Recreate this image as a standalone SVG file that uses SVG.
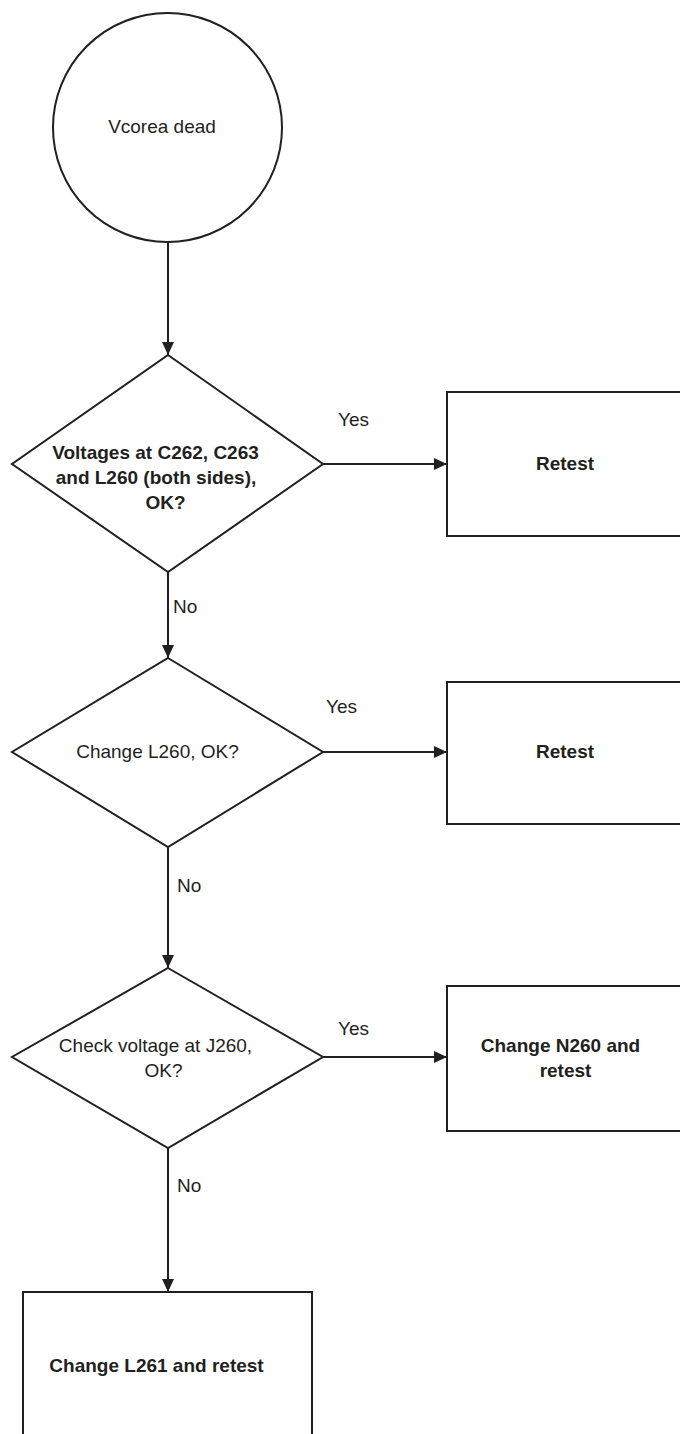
<svg xmlns="http://www.w3.org/2000/svg" width="680" height="1434" viewBox="0 0 680 1434">
  <style>
    .shape { fill: #ffffff; stroke: #231f20; stroke-width: 2; }
    .edge { fill: none; stroke: #231f20; stroke-width: 2; }
    text { font-family: "Liberation Sans", Arial, sans-serif; font-size: 19px; fill: #231f20; }
    .bold { font-weight: bold; }
    .mid { text-anchor: middle; }
  </style>
  <defs>
    <marker id="arrow" markerUnits="userSpaceOnUse" markerWidth="14" markerHeight="14" refX="13" refY="6.5" orient="auto">
      <path d="M0,0.5 L13,6.5 L0,12.5 Z" fill="#231f20"/>
    </marker>
  </defs>

  <rect width="680" height="1434" fill="#ffffff"/>

  <!-- connectors -->
  <g id="connectors">
    <line class="edge" x1="168" y1="242" x2="168" y2="355" marker-end="url(#arrow)"/>
    <line class="edge" x1="323" y1="464" x2="447" y2="464" marker-end="url(#arrow)"/>
    <line class="edge" x1="168" y1="572" x2="168" y2="658" marker-end="url(#arrow)"/>
    <line class="edge" x1="323" y1="752" x2="447" y2="752" marker-end="url(#arrow)"/>
    <line class="edge" x1="168" y1="847" x2="168" y2="968" marker-end="url(#arrow)"/>
    <line class="edge" x1="323" y1="1057" x2="447" y2="1057" marker-end="url(#arrow)"/>
    <line class="edge" x1="168" y1="1148" x2="168" y2="1292" marker-end="url(#arrow)"/>
    <text x="338" y="426">Yes</text>
    <text x="326" y="713">Yes</text>
    <text x="338" y="1035">Yes</text>
    <text x="173" y="613">No</text>
    <text x="177" y="892">No</text>
    <text x="177" y="1192">No</text>
  </g>

  <!-- start -->
  <g id="start">
    <circle class="shape" cx="167.5" cy="127.5" r="114.5"/>
    <text class="mid" x="162" y="133">Vcorea dead</text>
  </g>

  <!-- decision 1 -->
  <g id="check-voltages">
    <polygon class="shape" points="168,355 323,464 168,572 12,464"/>
    <text class="bold mid" x="155.5" y="459">Voltages at C262, C263</text>
    <text class="bold mid" x="156" y="484">and L260 (both sides),</text>
    <text class="bold mid" x="165.5" y="509">OK?</text>
  </g>

  <g id="retest-1">
    <rect class="shape" x="447" y="392" width="260" height="144"/>
    <text class="bold mid" x="565" y="470">Retest</text>
  </g>

  <!-- decision 2 -->
  <g id="change-l260">
    <polygon class="shape" points="168,658 323,752 168,847 12,752"/>
    <text class="mid" x="157.5" y="758">Change L260, OK?</text>
  </g>

  <g id="retest-2">
    <rect class="shape" x="447" y="682" width="260" height="142"/>
    <text class="bold mid" x="565" y="758">Retest</text>
  </g>

  <!-- decision 3 -->
  <g id="check-j260">
    <polygon class="shape" points="168,968 323,1057 168,1148 12,1057"/>
    <text class="mid" x="155.5" y="1052">Check voltage at J260,</text>
    <text class="mid" x="163.5" y="1077">OK?</text>
  </g>

  <g id="change-n260">
    <rect class="shape" x="447" y="986" width="260" height="145"/>
    <text class="bold mid" x="560.5" y="1052">Change N260 and</text>
    <text class="bold mid" x="565.5" y="1077">retest</text>
  </g>

  <!-- final action -->
  <g id="change-l261">
    <rect class="shape" x="23" y="1292" width="289" height="160"/>
    <text class="bold mid" x="156.5" y="1372">Change L261 and retest</text>
  </g>
</svg>
